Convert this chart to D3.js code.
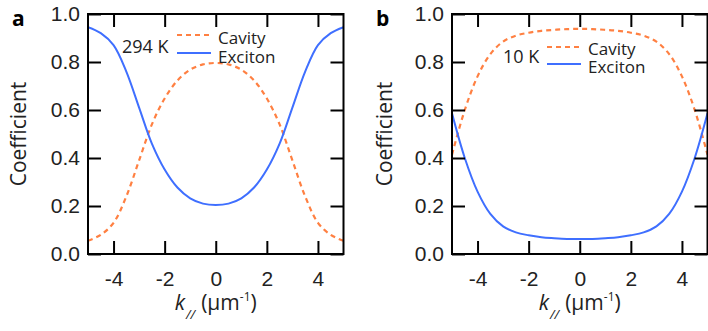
<!DOCTYPE html>
<html>
<head>
<meta charset="utf-8">
<script src="https://cdn.jsdelivr.net/npm/d3@7"></script>
<style>
  body { margin: 0; background: #fff; }
  svg { display: block; font-family: "Open Sans", "Noto Sans", sans-serif; }
</style>
</head>
<body>
<svg id="chart" width="708" height="331"></svg>
<script>
// wavevector k (um^-1)
const kValues = [-5, -4.5, -4, -3.5, -3, -2.5, -2, -1.5, -1, -0.5, 0, 0.5, 1, 1.5, 2, 2.5, 3, 3.5, 4, 4.5, 5];

// panel a, 294 K
const excitonA = [0.945, 0.92, 0.87, 0.76, 0.61, 0.46, 0.352, 0.277, 0.232, 0.21, 0.204, 0.21, 0.232, 0.277, 0.352, 0.46, 0.61, 0.76, 0.87, 0.92, 0.945];
const cavityA  = [0.055, 0.08, 0.13, 0.24, 0.39, 0.54, 0.648, 0.723, 0.768, 0.79, 0.796, 0.79, 0.768, 0.723, 0.648, 0.54, 0.39, 0.24, 0.13, 0.08, 0.055];

// panel b, 10 K
const excitonB = [0.586, 0.4, 0.26, 0.167, 0.115, 0.09, 0.078, 0.07, 0.066, 0.063, 0.062, 0.063, 0.066, 0.07, 0.078, 0.09, 0.115, 0.167, 0.26, 0.4, 0.586];
const cavityB  = [0.414, 0.6, 0.74, 0.833, 0.885, 0.91, 0.922, 0.93, 0.934, 0.937, 0.938, 0.937, 0.934, 0.93, 0.922, 0.91, 0.885, 0.833, 0.74, 0.6, 0.414];

const xTicks = [-4, -2, 0, 2, 4];
const yTicks = [0, 0.2, 0.4, 0.6, 0.8, 1.0];
const seriesNames = ['Cavity', 'Exciton'];

const cavityColor = '#ff8042';
const excitonColor = '#3f6fff';

const svg = d3.select('#chart');
const plotTop = 14, plotBottom = 254, plotW = 255.5, tick = 13;

const panels = [
  { id: 'a', left: 88, temp: '294 K', exciton: excitonA, cavity: cavityA,
    tempPos: [122, 53], legX: 177, legY: [35, 53], legTextY: [44, 63], ylab: 26 },
  { id: 'b', left: 452, temp: '10 K', exciton: excitonB, cavity: cavityB,
    tempPos: [503, 63], legX: 547, legY: [47, 64], legTextY: [55, 73], ylab: 392 }
];

panels.forEach((p, i) => {
  const x = d3.scaleLinear().domain([-5, 5]).range([p.left, p.left + plotW]);
  const y = d3.scaleLinear().domain([0, 1]).range([plotBottom, plotTop]);

  const g = svg.append('g');

  // clip curves to the frame
  g.append('clipPath').attr('id', 'clip' + i)
    .append('rect')
    .attr('x', x(-5)).attr('y', y(1))
    .attr('width', x(5) - x(-5)).attr('height', y(0) - y(1));

  const line = d3.line()
    .x(d => x(d[0]))
    .y(d => y(d[1]))
    .curve(d3.curveCatmullRom.alpha(0.5));

  const curves = g.append('g').attr('clip-path', 'url(#clip' + i + ')');
  curves.append('path')
    .datum(kValues.map((k, j) => [k, p.cavity[j]]))
    .attr('d', line)
    .attr('fill', 'none')
    .attr('stroke', cavityColor)
    .attr('stroke-width', 2.2)
    .attr('stroke-dasharray', '5,4');
  curves.append('path')
    .datum(kValues.map((k, j) => [k, p.exciton[j]]))
    .attr('d', line)
    .attr('fill', 'none')
    .attr('stroke', excitonColor)
    .attr('stroke-width', 2);

  // axes, ticks pointing inward on all four sides
  const styleAxis = sel => {
    sel.select('.domain').remove();
    sel.selectAll('line').attr('stroke', '#000').attr('stroke-width', 2);
    sel.selectAll('text').attr('fill', '#222').style('font-size', '21px');
  };

  g.append('g')
    .attr('transform', `translate(0,${plotBottom})`)
    .call(d3.axisBottom(x).tickValues(xTicks).tickSize(-tick).tickPadding(17)
      .tickFormat(d => String(d)))
    .call(styleAxis);
  g.append('g')
    .attr('transform', `translate(0,${plotTop})`)
    .call(d3.axisTop(x).tickValues(xTicks).tickSize(-tick).tickFormat(''))
    .call(styleAxis);
  g.append('g')
    .attr('transform', `translate(${p.left},0)`)
    .call(d3.axisLeft(y).tickValues(yTicks).tickSize(-tick).tickPadding(8)
      .tickFormat(d3.format('.1f')))
    .call(styleAxis);
  g.append('g')
    .attr('transform', `translate(${p.left + plotW},0)`)
    .call(d3.axisRight(y).tickValues(yTicks).tickSize(-tick).tickFormat(''))
    .call(styleAxis);

  // frame
  g.append('rect')
    .attr('x', x(-5)).attr('y', y(1))
    .attr('width', x(5) - x(-5)).attr('height', y(0) - y(1))
    .attr('fill', 'none').attr('stroke', '#000').attr('stroke-width', 2);

  // panel letter
  g.append('text')
    .attr('x', p.left - 76).attr('y', 26)
    .style('font-size', '21px').style('font-weight', 'bold')
    .text(p.id);

  // y label
  g.append('text')
    .attr('transform', `translate(${p.ylab},${(plotTop + plotBottom) / 2}) rotate(-90)`)
    .attr('text-anchor', 'middle')
    .style('font-size', '21px').attr('fill', '#222')
    .text('Coefficient');

  // x label: k_// (um^-1)
  const xl = g.append('text')
    .attr('x', (x(-5) + x(5)) / 2).attr('y', 310)
    .attr('text-anchor', 'middle')
    .style('font-size', '21px').attr('fill', '#222');
  xl.append('tspan').style('font-style', 'italic').text('k');
  xl.append('tspan').style('font-style', 'italic').style('font-size', '13px')
    .attr('dy', 9).attr('dx', 1).text('//');
  xl.append('tspan').attr('dy', -9).attr('dx', 6).text('(μm');
  xl.append('tspan').style('font-size', '12px').attr('dy', -9).text('-1');
  xl.append('tspan').attr('dy', 9).text(')');

  // legend
  g.append('text')
    .attr('x', p.tempPos[0]).attr('y', p.tempPos[1])
    .style('font-size', '18px').attr('fill', '#222')
    .text(p.temp);
  seriesNames.forEach((name, j) => {
    g.append('line')
      .attr('x1', p.legX).attr('x2', p.legX + 34)
      .attr('y1', p.legY[j]).attr('y2', p.legY[j])
      .attr('stroke', j === 0 ? cavityColor : excitonColor)
      .attr('stroke-width', 2.2)
      .attr('stroke-dasharray', j === 0 ? '5,4' : null);
    g.append('text')
      .attr('x', p.legX + 41).attr('y', p.legTextY[j])
      .style('font-size', '17px').attr('fill', '#222')
      .text(name);
  });
});
</script>
</body>
</html>
